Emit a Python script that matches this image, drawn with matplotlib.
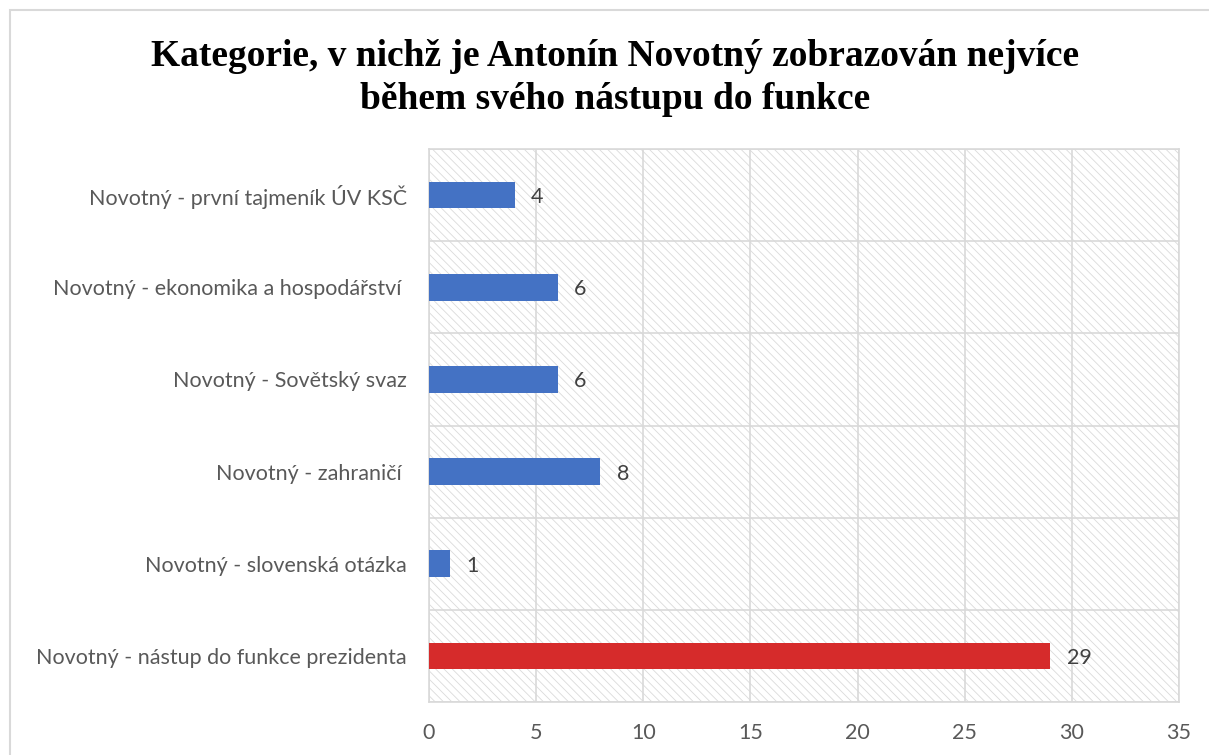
import matplotlib
matplotlib.use("Agg")
import matplotlib.pyplot as plt
from matplotlib.patches import Rectangle
import numpy as np

categories = [
    "Novotný - první tajmeník ÚV KSČ",
    "Novotný - ekonomika a hospodářství ",
    "Novotný - Sovětský svaz",
    "Novotný - zahraničí ",
    "Novotný - slovenská otázka",
    "Novotný - nástup do funkce prezidenta",
]
values = [4, 6, 6, 8, 1, 29]
bar_colors = ["#4472C4", "#4472C4", "#4472C4", "#4472C4", "#4472C4", "#D62B2B"]
xticks = [0, 5, 10, 15, 20, 25, 30, 35]
title = "Kategorie, v nichž je Antonín Novotný zobrazován nejvíce\nběhem svého nástupu do funkce"

plt.rcParams["hatch.color"] = "#dadada"
plt.rcParams["hatch.linewidth"] = 0.6

W, H = 1209, 755
fig = plt.figure(figsize=(W / 100, H / 100), dpi=100)

# outer chart border
fig.patches.append(Rectangle((10 / W, -0.05), 1.2, 1 - 10 / H + 0.05,
                             transform=fig.transFigure, fill=False,
                             edgecolor="#d9d9d9", linewidth=1.5, zorder=0))

ax = fig.add_axes([429 / W, 1 - 702 / H, (1179 - 429) / W, (702 - 149) / H])
ax.set_facecolor("white")
# hatched background
ax.add_patch(Rectangle((0, 0), 1, 1, transform=ax.transAxes, facecolor="white",
                       edgecolor="#dadada", hatch="\\" * 4, linewidth=0, zorder=0))

FONT = "Lato"
FS = 15.5

n = len(categories)
y = np.arange(n)[::-1]
ax.barh(y, values, height=0.29, color=bar_colors, zorder=3)
for yi, v in zip(y, values):
    ax.text(v + 0.75, yi, str(v), va="center_baseline", ha="left", fontsize=FS,
            color="#404040", family=FONT, zorder=4)

ax.set_xlim(0, 35)
ax.set_ylim(-0.5, n - 0.5)
ax.set_xticks(xticks)
ax.set_xticklabels([str(t) for t in xticks], fontsize=FS, color="#595959", family=FONT)
ax.set_yticks(y)
ax.set_yticklabels(categories, fontsize=FS, color="#595959", family=FONT)
ax.set_yticks(np.arange(-0.5, n, 1), minor=True)
ax.tick_params(axis="both", which="both", length=0)
ax.tick_params(axis="x", pad=15)
ax.tick_params(axis="y", pad=16)
ax.grid(axis="x", which="major", color="#d9d9d9", linewidth=1.2, zorder=1)
ax.grid(axis="y", which="minor", color="#d9d9d9", linewidth=1.2, zorder=1)
ax.set_axisbelow(True)
for s in ax.spines.values():
    s.set_color("#d9d9d9")
    s.set_linewidth(1.2)

fig.text(615 / W, 1 - 78 / H, title, ha="center", va="center", fontsize=27,
         fontweight="bold", family="Liberation Serif", linespacing=1.3)

fig.savefig("out.png", dpi=100)
